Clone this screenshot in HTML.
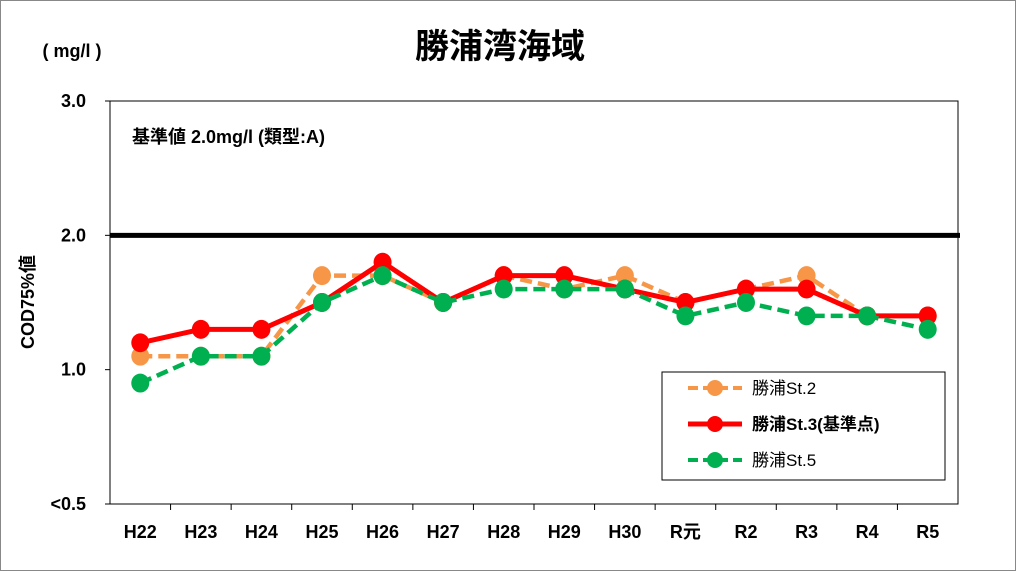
<!DOCTYPE html>
<html><head><meta charset="utf-8">
<style>
body{margin:0;background:#fff;}
svg{display:block;font-family:"Liberation Sans","Noto Sans CJK JP",sans-serif;}
</style></head><body>
<svg id="chart" width="1016" height="571" viewBox="0 0 1016 571" xmlns="http://www.w3.org/2000/svg">
<rect x="0.5" y="0.5" width="1015" height="570" fill="#fff" stroke="#888"/>
<text x="500" y="58" text-anchor="middle" font-size="34" font-weight="bold">勝浦湾海域</text>
<text x="72" y="57" text-anchor="middle" font-size="18" font-weight="bold">( mg/l )</text>
<rect x="110" y="101" width="848" height="403" fill="none" stroke="#000" stroke-width="1"/>
<text x="132" y="143" font-size="18" font-weight="bold">基準値  2.0mg/l (類型:A)</text>
<text transform="translate(34,302) rotate(-90)" text-anchor="middle" font-size="18" font-weight="bold">COD75%値</text>
<g id="axes"></g>
<g id="series"></g>
<rect x="662" y="372" width="283" height="108" fill="#fff" stroke="#000"/>
<g id="legend"></g>
</svg>
<script>
const categories=["H22","H23","H24","H25","H26","H27","H28","H29","H30","R元","R2","R3","R4","R5"];
const st2=[1.1,1.1,1.1,1.7,1.7,1.5,1.7,1.6,1.7,1.5,1.6,1.7,1.4,1.4];
const st3=[1.2,1.3,1.3,1.5,1.8,1.5,1.7,1.7,1.6,1.5,1.6,1.6,1.4,1.4];
const st5=[0.9,1.1,1.1,1.5,1.7,1.5,1.6,1.6,1.6,1.4,1.5,1.4,1.4,1.3];
const yTicks=[0,1.0,2.0,3.0];
const yTickLabels=["<0.5","1.0","2.0","3.0"];
const standard=2.0;
const NS="http://www.w3.org/2000/svg";
const L=110,R=958,T=101,B=504;
const step=(R-L)/categories.length;
function xs(i){return L+step*(i+0.5);}
function ys(v){return B-(v/3.0)*(B-T);}
function mk(tag,attrs,parent){const e=document.createElementNS(NS,tag);for(const k in attrs)e.setAttribute(k,attrs[k]);parent.appendChild(e);return e;}
const ax=document.getElementById('axes');
yTicks.forEach((v,i)=>{
  const y=ys(v);
  const t=mk('line',{x1:L-5,x2:L,y1:y,y2:y,stroke:'#000'},ax);
  
  
  const tx=mk('text',{x:L-24,y:y+6,'text-anchor':'end','font-size':18,'font-weight':'bold'},ax);
  tx.textContent=yTickLabels[i];
  
  
});
categories.forEach((c,i)=>{
  const x=L+step*i;
  if(i>0){const t=mk('line',{x1:x,x2:x,y1:B,y2:B+6,stroke:'#000'},ax);
  
  }
  const tx=mk('text',{x:xs(i),y:B+34,'text-anchor':'middle','font-size':18,'font-weight':'bold'},ax);
  tx.textContent=c;
  
  
});
const sl=mk('line',{x1:L,x2:R+2,y1:ys(standard),y2:ys(standard),stroke:'#000','stroke-width':5},ax);


const sg=document.getElementById('series');
function draw(vals,color,dash,name,r){
  const g=mk('g',{},sg);
  
  
  const p=mk('polyline',{points:vals.map((v,i)=>xs(i)+','+ys(v)).join(' '),fill:'none',stroke:color,'stroke-width':dash?4.5:5,'stroke-dasharray':dash||'none'},g);
  
  
  vals.forEach((v,i)=>{const c=mk('ellipse',{cx:xs(i),cy:ys(v),rx:r,ry:r*1.05,fill:color},g);
  
  });
}
draw(st2,'#F79646','12,6','st2-series',9);
draw(st3,'#FF0000',null,'st3-series',9);
draw(st5,'#00B050','12,6','st5-series',9);
const lg=document.getElementById('legend');
[["勝浦St.2",'#F79646','10,5',false],["勝浦St.3(基準点)",'#FF0000',null,true],["勝浦St.5",'#00B050','10,5',false]].forEach((d,i)=>{
  const y=388+i*36;
  const l=mk('line',{x1:688,x2:742,y1:y,y2:y,stroke:d[1],'stroke-width':d[2]?4:5,'stroke-dasharray':d[2]||'none'},lg);
  
  
  const c=mk('circle',{cx:715,cy:y,r:8,fill:d[1]},lg);
  
  
  const t=mk('text',{x:752,y:y+6,'font-size':17,'font-weight':d[3]?'bold':'normal'},lg);
  t.textContent=d[0];
  
  
});
</script>
</body></html>
